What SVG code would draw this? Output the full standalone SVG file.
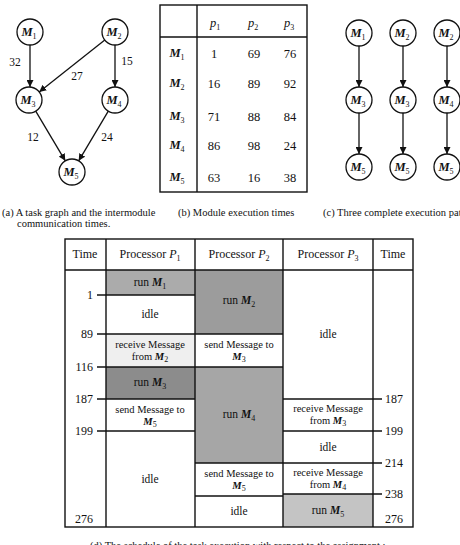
<svg xmlns="http://www.w3.org/2000/svg" width="460" height="545" viewBox="0 0 460 545">
<style>
text{font-family:"Liberation Serif","Times New Roman",serif;fill:#111}
.nc{fill:#fff;stroke:#111;stroke-width:1.3}
.e{stroke:#111;stroke-width:1.3;fill:none;marker-end:url(#ah)}
.nl{font-size:12.5px;text-anchor:middle}
.i{font-style:italic;font-weight:bold}
.s{font-size:8px}
.el{font-size:11.5px;text-anchor:middle}
.tb{font-size:12.5px;text-anchor:middle}
.cap{font-size:10.5px}
.hd{font-size:12px;text-anchor:middle}
.ct{font-size:11.5px;text-anchor:middle}
.cs{font-size:10.5px;text-anchor:middle}
.tl{font-size:12px;text-anchor:end}
.tr{font-size:12px;text-anchor:start}
.ln{stroke:#111;stroke-width:1.4;fill:none}
</style>
<defs>
<marker id="ah" viewBox="0 0 10 10" refX="10" refY="5" markerWidth="7" markerHeight="7" markerUnits="userSpaceOnUse" orient="auto">
<path d="M0,0 L10,5 L0,10 z" fill="#111"/>
</marker>
</defs>

<!-- (a) task graph -->
<g id="graph-a">
<g id="connectors-a">
<line class="e" x1="30" y1="45" x2="30" y2="87"/>
<line class="e" x1="104.8" y1="40.1" x2="39.2" y2="91.9"/>
<line class="e" x1="115" y1="45" x2="115" y2="87"/>
<line class="e" x1="35.7" y1="111.2" x2="65.3" y2="160.8"/>
<line class="e" x1="108.3" y1="111.2" x2="78.7" y2="160.8"/>
<text class="el" x="15" y="66">32</text>
<text class="el" x="77" y="80">27</text>
<text class="el" x="127" y="65">15</text>
<text class="el" x="33" y="141">12</text>
<text class="el" x="107" y="141">24</text>
</g>
<g id="a-M1"><circle class="nc" cx="30" cy="32" r="13"/><text class="nl" x="29" y="36"><tspan class="i">M</tspan><tspan class="s" dy="3">1</tspan></text></g>
<g id="a-M2"><circle class="nc" cx="115" cy="32" r="13"/><text class="nl" x="114" y="36"><tspan class="i">M</tspan><tspan class="s" dy="3">2</tspan></text></g>
<g id="a-M3"><circle class="nc" cx="29" cy="100" r="13"/><text class="nl" x="28" y="104"><tspan class="i">M</tspan><tspan class="s" dy="3">3</tspan></text></g>
<g id="a-M4"><circle class="nc" cx="115" cy="100" r="13"/><text class="nl" x="114" y="104"><tspan class="i">M</tspan><tspan class="s" dy="3">4</tspan></text></g>
<g id="a-M5"><circle class="nc" cx="72" cy="172" r="13"/><text class="nl" x="71" y="176"><tspan class="i">M</tspan><tspan class="s" dy="3">5</tspan></text></g>
</g>

<!-- (b) module execution times -->
<g id="table-b">
<rect x="160" y="5" width="147" height="187" class="ln" stroke-width="1.8"/>
<line class="ln" x1="197" y1="5" x2="197" y2="192"/>
<line class="ln" x1="160" y1="37" x2="307" y2="37"/>
<text class="tb" x="215" y="27"><tspan font-style="italic">p</tspan><tspan class="s" dy="3">1</tspan></text>
<text class="tb" x="253" y="27"><tspan font-style="italic">p</tspan><tspan class="s" dy="3">2</tspan></text>
<text class="tb" x="289" y="27"><tspan font-style="italic">p</tspan><tspan class="s" dy="3">3</tspan></text>
<text class="tb" x="177" y="57"><tspan class="i">M</tspan><tspan class="s" dy="3">1</tspan></text>
<text class="tb" x="177" y="87"><tspan class="i">M</tspan><tspan class="s" dy="3">2</tspan></text>
<text class="tb" x="177" y="120"><tspan class="i">M</tspan><tspan class="s" dy="3">3</tspan></text>
<text class="tb" x="177" y="149"><tspan class="i">M</tspan><tspan class="s" dy="3">4</tspan></text>
<text class="tb" x="177" y="181"><tspan class="i">M</tspan><tspan class="s" dy="3">5</tspan></text>
<text class="tb" x="214" y="58">1</text><text class="tb" x="254" y="58">69</text><text class="tb" x="290" y="58">76</text>
<text class="tb" x="214" y="88">16</text><text class="tb" x="254" y="88">89</text><text class="tb" x="290" y="88">92</text>
<text class="tb" x="214" y="121">71</text><text class="tb" x="254" y="121">88</text><text class="tb" x="290" y="121">84</text>
<text class="tb" x="214" y="150">86</text><text class="tb" x="254" y="150">98</text><text class="tb" x="290" y="150">24</text>
<text class="tb" x="214" y="182">63</text><text class="tb" x="254" y="182">16</text><text class="tb" x="290" y="182">38</text>
</g>

<!-- (c) execution paths -->
<g id="paths-c">
<g id="connectors-c">
<line class="e" x1="359" y1="46" x2="359" y2="87"/>
<line class="e" x1="359" y1="113" x2="359" y2="154"/>
<line class="e" x1="403" y1="46" x2="403" y2="87"/>
<line class="e" x1="403" y1="113" x2="403" y2="154"/>
<line class="e" x1="447" y1="46" x2="447" y2="87"/>
<line class="e" x1="447" y1="113" x2="447" y2="154"/>
</g>
<g id="c1-M1"><circle class="nc" cx="359" cy="33" r="13"/><text class="nl" x="358" y="37"><tspan class="i">M</tspan><tspan class="s" dy="3">1</tspan></text></g>
<g id="c1-M3"><circle class="nc" cx="359" cy="100" r="13"/><text class="nl" x="358" y="104"><tspan class="i">M</tspan><tspan class="s" dy="3">3</tspan></text></g>
<g id="c1-M5"><circle class="nc" cx="359" cy="167" r="13"/><text class="nl" x="358" y="171"><tspan class="i">M</tspan><tspan class="s" dy="3">5</tspan></text></g>
<g id="c2-M2"><circle class="nc" cx="403" cy="33" r="13"/><text class="nl" x="402" y="37"><tspan class="i">M</tspan><tspan class="s" dy="3">2</tspan></text></g>
<g id="c2-M3"><circle class="nc" cx="403" cy="100" r="13"/><text class="nl" x="402" y="104"><tspan class="i">M</tspan><tspan class="s" dy="3">3</tspan></text></g>
<g id="c2-M5"><circle class="nc" cx="403" cy="167" r="13"/><text class="nl" x="402" y="171"><tspan class="i">M</tspan><tspan class="s" dy="3">5</tspan></text></g>
<g id="c3-M2"><circle class="nc" cx="447" cy="33" r="13"/><text class="nl" x="446" y="37"><tspan class="i">M</tspan><tspan class="s" dy="3">2</tspan></text></g>
<g id="c3-M4"><circle class="nc" cx="447" cy="100" r="13"/><text class="nl" x="446" y="104"><tspan class="i">M</tspan><tspan class="s" dy="3">4</tspan></text></g>
<g id="c3-M5"><circle class="nc" cx="447" cy="167" r="13"/><text class="nl" x="446" y="171"><tspan class="i">M</tspan><tspan class="s" dy="3">5</tspan></text></g>
</g>

<!-- captions -->
<g id="captions">
<text class="cap" x="2" y="216">(a) A task graph and the intermodule</text>
<text class="cap" x="17" y="227">communication times.</text>
<text class="cap" x="178" y="216">(b) Module execution times</text>
<text class="cap" x="323" y="216">(c) Three complete execution paths</text>
<text class="cap" x="90" y="549">(d) The schedule of the task execution with respect to the assignment :</text>
</g>

<!-- (d) schedule table -->
<g id="schedule-d">
<g id="cells">
<rect x="106" y="270" width="89" height="25" fill="#ababab"/>
<rect x="106" y="334" width="89" height="33" fill="#efefef"/>
<rect x="106" y="367" width="89" height="32" fill="#8c8c8c"/>
<rect x="195" y="270" width="88" height="64" fill="#9c9c9c"/>
<rect x="195" y="367" width="88" height="96" fill="#a6a6a6"/>
<rect x="283" y="494" width="90" height="33" fill="#c4c4c4"/>
</g>
<g id="grid">
<rect x="65" y="239" width="348" height="288" class="ln" stroke-width="1.6"/>
<line class="ln" x1="65" y1="270" x2="413" y2="270"/>
<line class="ln" x1="106" y1="239" x2="106" y2="527"/>
<line class="ln" x1="195" y1="239" x2="195" y2="527"/>
<line class="ln" x1="283" y1="239" x2="283" y2="527"/>
<line class="ln" x1="373" y1="239" x2="373" y2="527"/>
<line class="ln" x1="97" y1="295" x2="195" y2="295"/>
<line class="ln" x1="97" y1="334" x2="283" y2="334"/>
<line class="ln" x1="97" y1="367" x2="283" y2="367"/>
<line class="ln" x1="97" y1="399" x2="195" y2="399"/>
<line class="ln" x1="97" y1="431" x2="195" y2="431"/>
<line class="ln" x1="195" y1="463" x2="283" y2="463"/>
<line class="ln" x1="195" y1="496" x2="283" y2="496"/>
<line class="ln" x1="283" y1="399" x2="382" y2="399"/>
<line class="ln" x1="283" y1="431" x2="382" y2="431"/>
<line class="ln" x1="283" y1="463" x2="382" y2="463"/>
<line class="ln" x1="283" y1="494" x2="382" y2="494"/>
</g>
<g id="headers">
<text class="hd" x="85" y="258">Time</text>
<text class="hd" x="150" y="258">Processor <tspan font-style="italic">P</tspan><tspan class="s" dy="3">1</tspan></text>
<text class="hd" x="239" y="258">Processor <tspan font-style="italic">P</tspan><tspan class="s" dy="3">2</tspan></text>
<text class="hd" x="328" y="258">Processor <tspan font-style="italic">P</tspan><tspan class="s" dy="3">3</tspan></text>
<text class="hd" x="393" y="258">Time</text>
</g>
<g id="time-left">
<text class="tl" x="93" y="299">1</text>
<text class="tl" x="93" y="338">89</text>
<text class="tl" x="93" y="371">116</text>
<text class="tl" x="93" y="403">187</text>
<text class="tl" x="93" y="435">199</text>
<text class="hd" x="84" y="523">276</text>
</g>
<g id="time-right">
<text class="tr" x="385" y="403">187</text>
<text class="tr" x="385" y="435">199</text>
<text class="tr" x="385" y="467">214</text>
<text class="tr" x="385" y="498">238</text>
<text class="tr" x="385" y="523">276</text>
</g>
<g id="p1-cells">
<text class="ct" x="150" y="286">run <tspan class="i">M</tspan><tspan class="s" dy="3">1</tspan></text>
<text class="ct" x="150" y="318">idle</text>
<text class="cs" x="150" y="348">receive Message</text>
<text class="cs" x="150" y="360">from <tspan class="i">M</tspan><tspan class="s" dy="2">2</tspan></text>
<text class="ct" x="150" y="386">run <tspan class="i">M</tspan><tspan class="s" dy="3">3</tspan></text>
<text class="cs" x="150" y="413">send Message to</text>
<text class="cs" x="150" y="425"><tspan class="i">M</tspan><tspan class="s" dy="2">5</tspan></text>
<text class="ct" x="150" y="483">idle</text>
</g>
<g id="p2-cells">
<text class="ct" x="239" y="304">run <tspan class="i">M</tspan><tspan class="s" dy="3">2</tspan></text>
<text class="cs" x="239" y="348">send Message to</text>
<text class="cs" x="239" y="360"><tspan class="i">M</tspan><tspan class="s" dy="2">3</tspan></text>
<text class="ct" x="239" y="418">run <tspan class="i">M</tspan><tspan class="s" dy="3">4</tspan></text>
<text class="cs" x="239" y="477">send Message to</text>
<text class="cs" x="239" y="489"><tspan class="i">M</tspan><tspan class="s" dy="2">5</tspan></text>
<text class="ct" x="239" y="515">idle</text>
</g>
<g id="p3-cells">
<text class="ct" x="328" y="338">idle</text>
<text class="cs" x="328" y="412">receive Message</text>
<text class="cs" x="328" y="424">from <tspan class="i">M</tspan><tspan class="s" dy="2">3</tspan></text>
<text class="ct" x="328" y="451">idle</text>
<text class="cs" x="328" y="476">receive Message</text>
<text class="cs" x="328" y="488">from <tspan class="i">M</tspan><tspan class="s" dy="2">4</tspan></text>
<text class="ct" x="328" y="514">run <tspan class="i">M</tspan><tspan class="s" dy="3">5</tspan></text>
</g>
</g>
</svg>
